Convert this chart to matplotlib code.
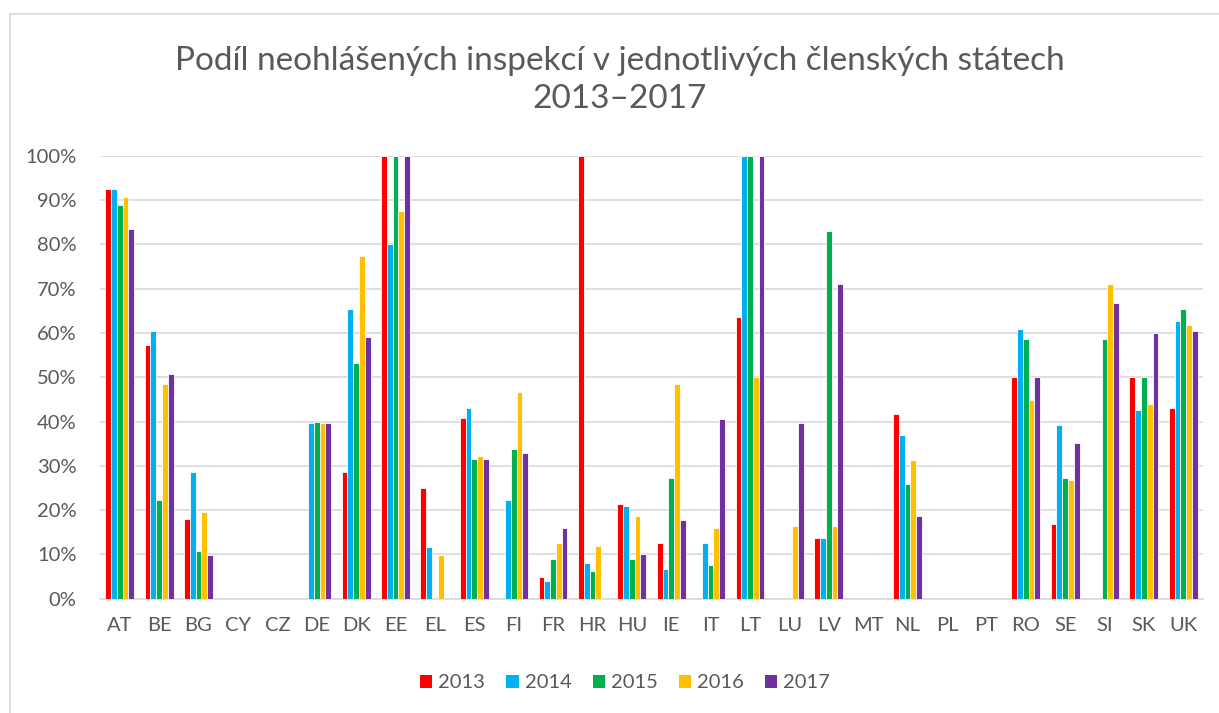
import numpy as np
import matplotlib.pyplot as plt
from matplotlib.patches import Patch
from matplotlib.lines import Line2D
from matplotlib.ticker import FuncFormatter

countries = ['AT', 'BE', 'BG', 'CY', 'CZ', 'DE', 'DK', 'EE', 'EL', 'ES', 'FI', 'FR', 'HR', 'HU',
             'IE', 'IT', 'LT', 'LU', 'LV', 'MT', 'NL', 'PL', 'PT', 'RO', 'SE', 'SI', 'SK', 'UK']
years = ['2013', '2014', '2015', '2016', '2017']

# shares in %, 0 = no bar
v2013 = [92.5, 57.3, 17.9, 0, 0, 0, 28.5, 100, 25.0, 40.9, 0, 5.0, 100, 21.4,
         12.5, 0, 63.6, 0, 13.8, 0, 41.8, 0, 0, 50.0, 16.9, 0, 50.0, 43.1]
v2014 = [92.5, 60.5, 28.5, 0, 0, 39.6, 65.3, 80.0, 11.6, 43.1, 22.3, 4.1, 8.1, 20.9,
         6.7, 12.5, 100, 0, 13.8, 0, 36.9, 0, 0, 60.9, 39.1, 0, 42.7, 62.7]
v2015 = [88.9, 22.3, 10.8, 0, 0, 40.0, 53.3, 100, 0, 31.6, 33.8, 9.0, 6.2, 9.0,
         27.2, 7.6, 100, 0, 83.1, 0, 25.8, 0, 0, 58.7, 27.2, 58.7, 50.0, 65.3]
v2016 = [90.6, 48.5, 19.6, 0, 0, 39.6, 77.4, 87.5, 9.8, 32.1, 46.7, 12.5, 12.0, 18.7,
         48.5, 16.0, 50.0, 16.5, 16.5, 0, 31.2, 0, 0, 44.9, 26.7, 71.1, 44.0, 61.8]
v2017 = [83.5, 50.7, 9.9, 0, 0, 39.6, 59.1, 100, 0, 31.6, 33.0, 16.0, 0, 10.2,
         17.8, 40.5, 100, 39.6, 71.1, 0, 18.7, 0, 0, 50.0, 35.1, 66.7, 60.0, 60.5]

series = [v2013, v2014, v2015, v2016, v2017]
colors = ['#FF0000', '#00B0F0', '#00B050', '#FFC000', '#7030A0']
grey = '#595959'

plt.rcParams['font.family'] = ['Lato', 'DejaVu Sans']

W, H = 1219, 713
fig = plt.figure(figsize=(W / 100, H / 100), dpi=100)
ax = fig.add_axes([100 / W, 1 - 598.7 / H, (1203 - 100) / W, (598.7 - 155.7) / H])

x = np.arange(len(countries))
bw = 0.147
for i in range(len(series)):
    ax.bar(x + (i - 2) * bw, series[i], width=bw, color=colors[i],
           edgecolor='white', linewidth=0.6, zorder=3)

ax.set_xlim(-0.5, len(countries) - 0.5)
ax.set_ylim(0, 100)
ax.set_yticks(np.arange(0, 101, 10))
ax.yaxis.set_major_formatter(FuncFormatter(lambda v, p: f'{v:.0f}%'))
ax.set_xticks(x, countries)
ax.grid(axis='y', color='#d9d9d9', linewidth=1.2, zorder=0)
ax.tick_params(length=0, labelsize=14.5, colors=grey)
ax.tick_params(axis='x', pad=13)
ax.tick_params(axis='y', pad=17)
for s in ['top', 'right', 'left']:
    ax.spines[s].set_visible(False)
ax.spines['bottom'].set_color('#d9d9d9')
ax.spines['bottom'].set_linewidth(1.2)

fig.text(620 / W, 1 - 80 / H, 'Podíl neohlášených inspekcí v jednotlivých členských státech\n2013–2017',
         ha='center', va='center', fontsize=24, color=grey, linespacing=1.32)

handles = [Patch(facecolor=c, edgecolor='none') for c in colors]
fig.legend(handles, years, loc='center', bbox_to_anchor=(625 / W, 1 - 683 / H), ncol=5,
           frameon=False, fontsize=14.5, labelcolor=grey, handlelength=0.6, handleheight=0.6,
           handletextpad=0.3, columnspacing=1.05)

# outer chart frame
fig.add_artist(Line2D([10 / W, 1], [1 - 14 / H, 1 - 14 / H], color='#d9d9d9', linewidth=1.2))
fig.add_artist(Line2D([10 / W, 10 / W], [0, 1 - 14 / H], color='#d9d9d9', linewidth=1.2))

fig.savefig('out.png', dpi=100)
